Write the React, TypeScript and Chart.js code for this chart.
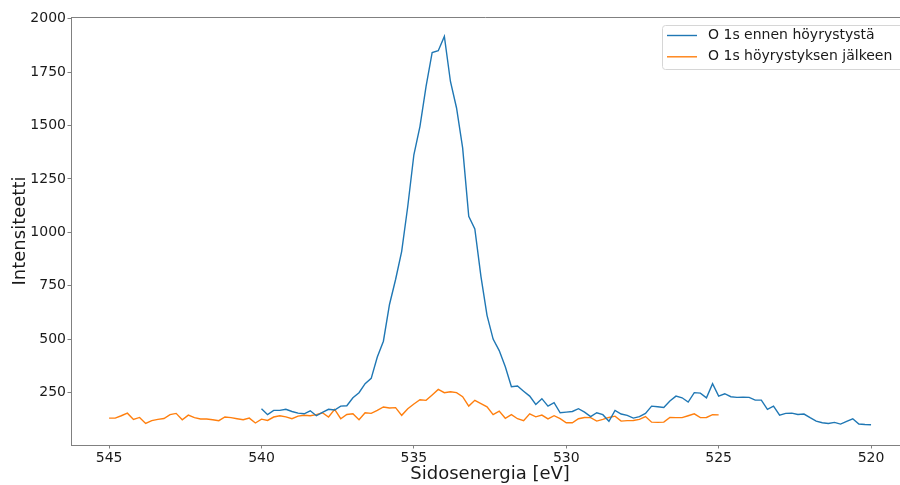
import React, { useEffect, useRef } from "react";
import { Chart, registerables } from "chart.js";

Chart.register(...registerables);

// Binding energies (eV) for each measurement
const BEFORE_EV = [
  540.0, 539.8, 539.6, 539.4, 539.2, 539.0, 538.8, 538.6, 538.4, 538.2, 538.0,
  537.8, 537.6, 537.4, 537.2, 537.0, 536.8, 536.6, 536.4, 536.2, 536.0,
  535.8, 535.6, 535.4, 535.2, 535.0, 534.8, 534.6, 534.4, 534.2, 534.0,
  533.8, 533.6, 533.4, 533.2, 533.0, 532.8, 532.6, 532.4, 532.2, 532.0,
  531.8, 531.6, 531.4, 531.2, 531.0, 530.8, 530.6, 530.4, 530.2, 530.0,
  529.8, 529.6, 529.4, 529.2, 529.0, 528.8, 528.6, 528.4, 528.2, 528.0,
  527.8, 527.6, 527.4, 527.2, 527.0, 526.8, 526.6, 526.4, 526.2, 526.0,
  525.8, 525.6, 525.4, 525.2, 525.0, 524.8, 524.6, 524.4, 524.2, 524.0,
  523.8, 523.6, 523.4, 523.2, 523.0, 522.8, 522.6, 522.4, 522.2, 522.0,
  521.8, 521.6, 521.4, 521.2, 521.0, 520.8, 520.6, 520.4, 520.2, 520.0,
];

const BEFORE_COUNTS = [
  174, 146, 166, 166, 171, 161, 153, 150, 164, 141, 157,
  171, 168, 186, 188, 225, 249, 291, 316, 416, 490,
  662, 779, 911, 1122, 1363, 1496, 1683, 1842, 1850, 1917,
  1706, 1582, 1395, 1075, 1016, 794, 611, 500, 446, 370,
  277, 280, 256, 233, 194, 221, 186, 202, 155, 158,
  161, 174, 158, 137, 155, 146, 115, 166, 149, 143,
  130, 137, 152, 186, 183, 180, 210, 233, 225, 205,
  249, 247, 225, 291, 233, 244, 230, 227, 228, 227,
  214, 214, 171, 186, 144, 152, 153, 147, 149, 132,
  116, 108, 105, 110, 102, 115, 127, 102, 100, 99,
];

const AFTER_EV = [
  545.0, 544.8, 544.6, 544.4, 544.2, 544.0, 543.8, 543.6, 543.4, 543.2, 543.0,
  542.8, 542.6, 542.4, 542.2, 542.0, 541.8, 541.6, 541.4, 541.2, 541.0,
  540.8, 540.6, 540.4, 540.2, 540.0, 539.8, 539.6, 539.4, 539.2, 539.0,
  538.8, 538.6, 538.4, 538.2, 538.0, 537.8, 537.6, 537.4, 537.2, 537.0,
  536.8, 536.6, 536.4, 536.2, 536.0, 535.8, 535.6, 535.4, 535.2, 535.0,
  534.8, 534.6, 534.4, 534.2, 534.0, 533.8, 533.6, 533.4, 533.2, 533.0,
  532.8, 532.6, 532.4, 532.2, 532.0, 531.8, 531.6, 531.4, 531.2, 531.0,
  530.8, 530.6, 530.4, 530.2, 530.0, 529.8, 529.6, 529.4, 529.2, 529.0,
  528.8, 528.6, 528.4, 528.2, 528.0, 527.8, 527.6, 527.4, 527.2, 527.0,
  526.8, 526.6, 526.4, 526.2, 526.0, 525.8, 525.6, 525.4, 525.2, 525.0,
];

const AFTER_COUNTS = [
  130, 130, 141, 153, 124, 133, 105, 118, 124, 128, 146,
  152, 122, 144, 132, 126, 126, 122, 118, 135, 132,
  127, 122, 130, 107, 125, 119, 135, 141, 136, 127,
  139, 143, 141, 146, 155, 135, 171, 127, 147, 150,
  122, 155, 152, 166, 182, 177, 179, 143, 174, 196,
  216, 213, 238, 264, 249, 253, 249, 230, 186, 213,
  198, 183, 146, 163, 129, 146, 127, 118, 150, 136,
  144, 126, 141, 127, 108, 108, 127, 133, 132, 116,
  124, 133, 139, 116, 118, 119, 124, 137, 111, 110,
  111, 133, 132, 132, 141, 150, 132, 133, 146, 145,
];

const SERIES_LABELS = ["O 1s ennen höyrystystä", "O 1s höyrystyksen jälkeen"];
const SERIES_COLORS = ["#1f77b4", "#ff7f0e"];
const X_TICKS = [545, 540, 535, 530, 525, 520];
const Y_TICKS = [250, 500, 750, 1000, 1250, 1500, 1750, 2000];
const X_TITLE = "Sidosenergia [eV]";
const Y_TITLE = "Intensiteetti";
// full (uncropped) x extent of the original axes; the title is centred on it
const X_FULL_RANGE = [546.25, 518.75];

const FONT = "'DejaVu Sans', sans-serif";
const AXIS_GREY = "#808080";
const TEXT = "#1a1a1a";

export default function App() {
  const ref = useRef<HTMLCanvasElement | null>(null);

  useEffect(() => {
    if (!ref.current) return;

    const framePlugin = {
      id: "topSpineAndTitle",
      afterDatasetsDraw(chart: any) {
        const { ctx, chartArea } = chart;
        ctx.save();
        ctx.strokeStyle = AXIS_GREY;
        ctx.lineWidth = 1;
        ctx.beginPath();
        ctx.moveTo(chartArea.left, chartArea.top + 0.5);
        ctx.lineTo(chartArea.right, chartArea.top + 0.5);
        ctx.stroke();
        const xs = chart.scales.x;
        const cx =
          (xs.getPixelForValue(X_FULL_RANGE[0]) +
            xs.getPixelForValue(X_FULL_RANGE[1])) /
          2;
        ctx.fillStyle = TEXT;
        ctx.font = `18px ${FONT}`;
        ctx.textAlign = "center";
        ctx.textBaseline = "middle";
        ctx.fillText(X_TITLE, cx, 474);
        ctx.restore();
      },
    };

    const legendPlugin = {
      id: "boxLegend",
      afterDraw(chart: any) {
        const ctx = chart.ctx;
        ctx.save();
        ctx.beginPath();
        (ctx as any).roundRect(662.5, 25.5, 260, 44, 3);
        ctx.fillStyle = "rgba(255,255,255,0.85)";
        ctx.fill();
        ctx.strokeStyle = "#d6d6d6";
        ctx.lineWidth = 1;
        ctx.stroke();
        SERIES_LABELS.forEach((label, i) => {
          const y = 35.5 + i * 21.3;
          ctx.beginPath();
          ctx.strokeStyle = SERIES_COLORS[i];
          ctx.lineWidth = 1.4;
          ctx.moveTo(667, y);
          ctx.lineTo(697, y);
          ctx.stroke();
          ctx.fillStyle = TEXT;
          ctx.font = `14px ${FONT}`;
          ctx.textBaseline = "middle";
          ctx.textAlign = "left";
          ctx.fillText(label, 708, y);
        });
        ctx.restore();
      },
    };

    const chart = new Chart(ref.current, {
      type: "line",
      data: {
        datasets: [
          {
            label: SERIES_LABELS[0],
            data: BEFORE_EV.map((x, i) => ({ x, y: BEFORE_COUNTS[i] })),
            borderColor: SERIES_COLORS[0],
            borderWidth: 1.4,
            pointRadius: 0,
            fill: false,
            tension: 0,
          },
          {
            label: SERIES_LABELS[1],
            data: AFTER_EV.map((x, i) => ({ x, y: AFTER_COUNTS[i] })),
            borderColor: SERIES_COLORS[1],
            borderWidth: 1.4,
            pointRadius: 0,
            fill: false,
            tension: 0,
          },
        ],
      },
      options: {
        animation: false,
        responsive: true,
        maintainAspectRatio: false,
        layout: { padding: { top: 17, right: 0, left: 0, bottom: 0 } },
        plugins: {
          legend: { display: false },
          tooltip: { enabled: false },
        },
        scales: {
          x: {
            type: "linear",
            reverse: true,
            min: 519.05,
            max: 546.25,
            afterBuildTicks: (s: any) => {
              s.ticks = X_TICKS.map((v) => ({ value: v }));
            },
            afterFit: (s: any) => {
              s.height = 40;
            },
            grid: {
              drawOnChartArea: false,
              drawTicks: true,
              tickLength: 3.5,
              color: AXIS_GREY,
            },
            border: { color: AXIS_GREY, width: 1 },
            ticks: {
              font: { family: FONT, size: 14 },
              color: TEXT,
              padding: 1,
              maxRotation: 0,
              autoSkip: false,
              callback: (v: any) => String(v),
            },
            title: { display: false },
          },
          y: {
            type: "linear",
            min: 4,
            max: 2008,
            afterBuildTicks: (s: any) => {
              s.ticks = Y_TICKS.map((v) => ({ value: v }));
            },
            afterFit: (s: any) => {
              s.width = 71;
            },
            grid: {
              drawOnChartArea: false,
              drawTicks: true,
              tickLength: 3.5,
              color: AXIS_GREY,
            },
            border: { color: AXIS_GREY, width: 1 },
            ticks: {
              font: { family: FONT, size: 14 },
              color: TEXT,
              padding: 1.5,
              autoSkip: false,
              callback: (v: any) => String(v),
            },
            title: {
              display: true,
              text: Y_TITLE,
              font: { family: FONT, size: 18 },
              color: TEXT,
              padding: { top: 10, bottom: 0 },
            },
          },
        },
      },
      plugins: [framePlugin, legendPlugin],
    } as any);

    return () => chart.destroy();
  }, []);

  return (
    <div
      style={{
        position: "fixed",
        left: 0,
        top: 0,
        width: 900,
        height: 485,
        background: "#ffffff",
      }}
    >
      <canvas ref={ref} />
    </div>
  );
}
